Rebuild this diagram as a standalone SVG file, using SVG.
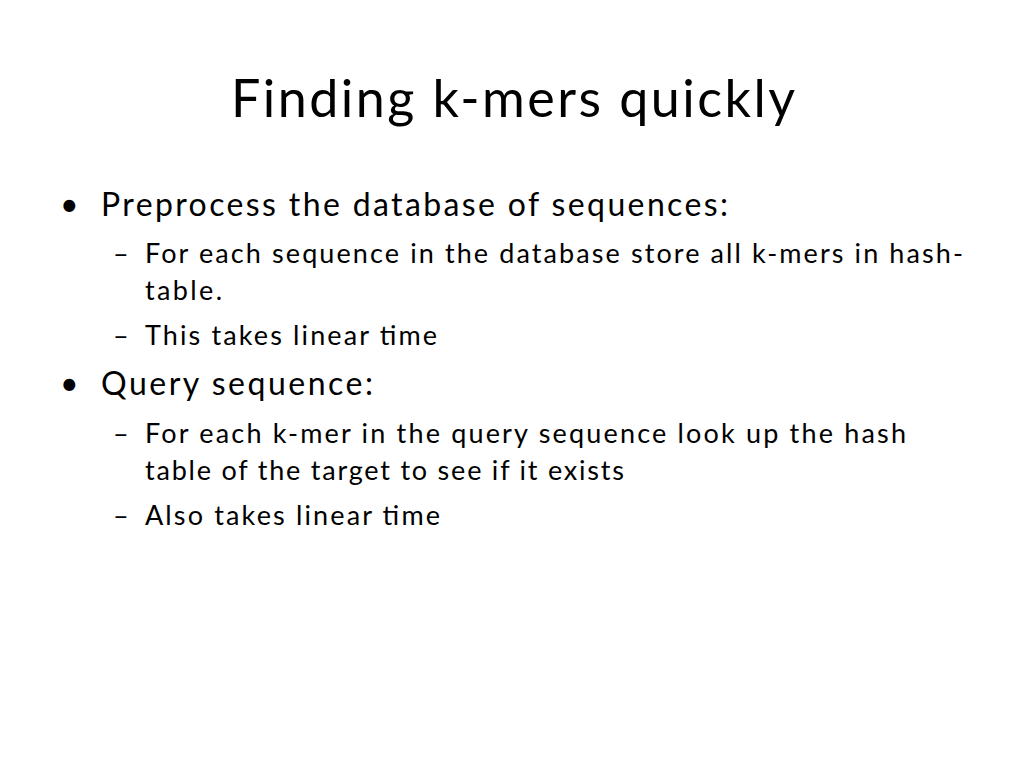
<svg xmlns="http://www.w3.org/2000/svg" width="1024" height="768" viewBox="0 0 1024 768">
<style>
text{font-family:Lato,"Open Sans","Liberation Sans",sans-serif;fill:#000}
.t{font-size:52px}
.b{font-size:32px}
.s{font-size:27px}
</style>
<rect width="1024" height="768" fill="#fff"/>
<g id="title"><text class="t" x="231" y="117" textLength="564">Finding k-mers quickly</text></g>
<g id="body">
<text class="b" x="60" y="216">•</text>
<text class="b" x="101" y="216" textLength="627">Preprocess the database of sequences:</text>
<text class="s" x="113" y="263">–</text>
<text class="s" x="145" y="263" textLength="818">For each sequence in the database store all k-mers in hash-</text>
<text class="s" x="145" y="300" textLength="77">table.</text>
<text class="s" x="113" y="345">–</text>
<text class="s" x="145" y="345" textLength="292">This takes linear time</text>
<text class="b" x="60" y="395">•</text>
<text class="b" x="101" y="395" textLength="272">Query sequence:</text>
<text class="s" x="113" y="443">–</text>
<text class="s" x="145" y="443" textLength="761">For each k-mer in the query sequence look up the hash</text>
<text class="s" x="145" y="480" textLength="479">table of the target to see if it exists</text>
<text class="s" x="113" y="525">–</text>
<text class="s" x="145" y="525" textLength="295">Also takes linear time</text>
</g>
</svg>
